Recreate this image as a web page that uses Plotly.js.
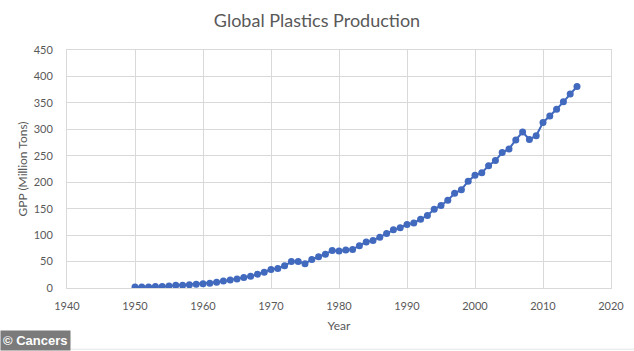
<!DOCTYPE html>
<html>
<head>
<meta charset="utf-8">
<script src="https://cdn.plot.ly/plotly-3.0.1.min.js"></script>
<style>
  html, body { margin: 0; padding: 0; background: #ffffff; }
  #chart { width: 634px; height: 351px; }
</style>
</head>
<body>
<div id="chart"></div>
<script>
// Data
const years = [1950,1951,1952,1953,1954,1955,1956,1957,1958,1959,
               1960,1961,1962,1963,1964,1965,1966,1967,1968,1969,
               1970,1971,1972,1973,1974,1975,1976,1977,1978,1979,
               1980,1981,1982,1983,1984,1985,1986,1987,1988,1989,
               1990,1991,1992,1993,1994,1995,1996,1997,1998,1999,
               2000,2001,2002,2003,2004,2005,2006,2007,2008,2009,
               2010,2011,2012,2013,2014,2015];
const gpp = [2,2,2,3,3,4,5,5,6,7,
             8,9,11,13,15,17,20,22,26,30,
             35,37,42,50,50,46,54,59,64,71,
             70,72,73,80,87,90,96,103,110,114,
             120,123,130,137,149,156,166,179,186,202,
             213,218,231,241,256,263,280,295,281,288,
             313,325,338,352,367,381];
const xTicks = [1940,1950,1960,1970,1980,1990,2000,2010,2020];
const yTicks = [0,50,100,150,200,250,300,350,400,450];

const chartTitle = "Global Plastics Production";
const xTitle = "Year";
const yTitle = "GPP (Million Tons)";
const credit = "© Cancers";

const font = "Lato, 'Open Sans', sans-serif";
const textGray = "#595959";
const gridGray = "#d9d9d9";

const trace = {
  x: years,
  y: gpp,
  type: "scatter",
  mode: "lines+markers",
  line: { color: "#4169be", width: 2 },
  marker: { color: "#4169be", size: 7 },
  hoverinfo: "x+y"
};

const layout = {
  width: 634,
  height: 351,
  margin: { l: 67, r: 23, t: 50, b: 63 },
  paper_bgcolor: "#ffffff",
  plot_bgcolor: "#ffffff",
  showlegend: false,
  font: { family: font, color: textGray, size: 11 },
  title: {
    text: chartTitle,
    font: { family: font, size: 18, color: textGray },
    x: 0.5, xanchor: "center",
    y: 0.94, yanchor: "middle", yref: "container"
  },
  xaxis: {
    range: [1940, 2020],
    tickvals: xTicks,
    ticktext: xTicks.map(String),
    showgrid: true,
    gridcolor: gridGray,
    gridwidth: 1,
    zeroline: false,
    showline: true,
    mirror: true,
    linecolor: gridGray,
    linewidth: 1,
    ticks: "",
    ticklabelstandoff: 8,
    tickfont: { family: font, size: 11, color: textGray },
    title: { text: xTitle, font: { family: font, size: 12, color: textGray }, standoff: 10 }
  },
  yaxis: {
    range: [0, 450],
    tickvals: yTicks,
    ticktext: yTicks.map(String),
    showgrid: true,
    gridcolor: gridGray,
    gridwidth: 1,
    zeroline: false,
    showline: true,
    mirror: true,
    linecolor: gridGray,
    linewidth: 1,
    ticks: "",
    ticklabelstandoff: 11,
    tickfont: { family: font, size: 11, color: textGray },
    title: { text: yTitle, font: { family: font, size: 12, color: textGray }, standoff: 3 }
  },
  shapes: [
    { type: "line", xref: "paper", yref: "paper",
      x0: -0.2, x1: 1.1, y0: -0.257, y1: -0.257,
      line: { color: "#e6e6e6", width: 1 } }
  ],
  annotations: [
    {
      text: "<b>" + credit + "</b>",
      xref: "paper", yref: "paper",
      x: -0.123, y: -0.2647,
      xanchor: "left", yanchor: "bottom",
      showarrow: false,
      font: { family: "'Liberation Sans', Arial, sans-serif", size: 13, color: "#ffffff" },
      bgcolor: "#7b7b7b",
      borderpad: 2
    }
  ]
};

Plotly.newPlot("chart", [trace], layout, { displayModeBar: false, staticPlot: true });
</script>
</body>
</html>
